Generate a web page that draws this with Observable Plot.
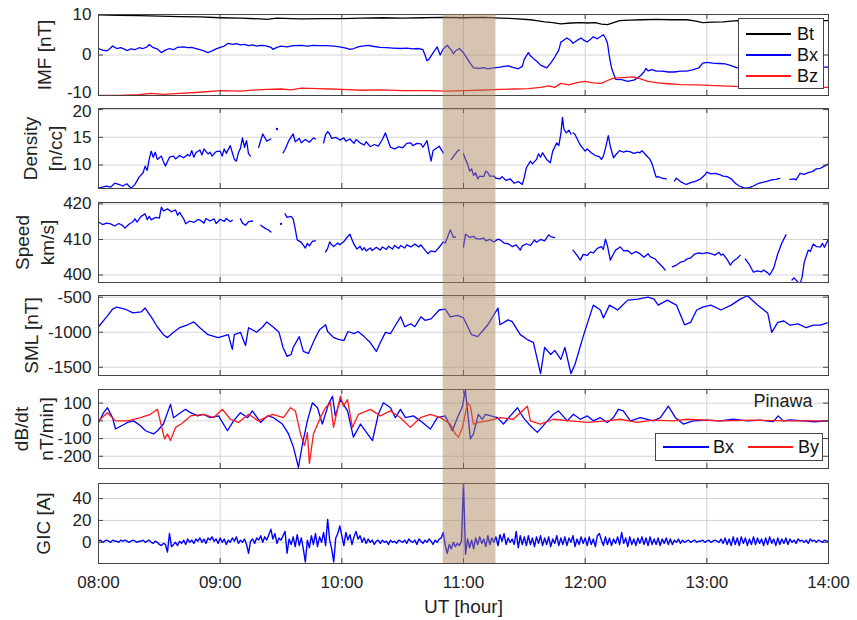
<!DOCTYPE html>
<html><head><meta charset="utf-8">
<script src="https://cdn.jsdelivr.net/npm/d3@7"></script>
<script src="https://cdn.jsdelivr.net/npm/@observablehq/plot@0.6"></script>
<style>
body{margin:0;background:#fff;font-family:"Liberation Sans",Arial,Helvetica,sans-serif;}
#wrap{position:relative;width:857px;height:620px;overflow:hidden;background:#fff;}
#wrap svg{position:absolute;left:0;}
.lg{position:absolute;background:#fff;border:1px solid #444;box-sizing:border-box;font-size:18px;color:#111;}
.lg .ln{position:absolute;height:1.6px;}
.lg span{position:absolute;height:20px;line-height:20px;}
</style></head>
<body><div id="wrap"></div>
<script>
// ---------- axis / tick labels ----------
const hourTicks = [8, 9, 10, 11, 12, 13, 14];
const xTickLabels = ["08:00", "09:00", "10:00", "11:00", "12:00", "13:00", "14:00"];
const shadeWindow = [170, 196]; // minutes after 08:00

// ---------- IMF (minutes after 08:00, nT) ----------
const btT = [0,10,20,30,40,50,60,70,80,83,88,95,100,110,120,130,140,150,160,170,180,190,198,205,213,216,220,224,228,233,238,241,245,248,251,254,257,262,268,275,282,290,294,298,303,308,315,326,340,360];
const btV = [9.9,9.8,9.7,9.6,9.5,9.4,9.2,9.1,8.9,8.8,9.1,9.0,8.9,9.0,9.0,9.1,9.2,9.1,9.2,9.3,9.2,9.3,9.1,9.0,8.7,8.5,8.2,8.0,7.7,7.9,8.0,7.9,8.0,7.6,7.5,8.0,8.5,8.6,8.7,8.8,8.7,8.7,8.4,8.0,8.1,8.2,8.5,8.4,8.5,8.5];
const imfBxT = [0,2,4,5,7,9,11,13,14,16,18,20,22,24,25,27,29,31,33,35,37,39,42,44,46,48,50,52,54,56,58,60,62,64,66,68,70,72,74,76,78,80,82,83,85,86,88,90,93,96,100,103,106,109,112,116,119,122,124,126,128,130,133,136,139,142,145,149,152,155,158,160,161,162,163,165,167,168.5,170,172,174,175,176,178,180,182,183.5,185,188,190,192,195,198,200,202,204,207,209,210,212,213,214.5,216,218,221,223,225,227,228,229,231,233,234,236,238,239.5,241,242.5,244,246,248,249,250,251,252,253,255,258,261,264,266,267.5,269,270,271,273,275,278,281,284,287,290,293,296,298,300,303,306,309,312,315,318,322,326,330,334,338,342,346,350,355,360];
const imfBxV = [1.6,1.2,1.0,1.3,2.2,1.6,1.8,1.4,1.1,1.5,1.3,1.8,1.6,2.0,2.6,1.8,1.5,0.6,1.2,1.6,1.3,1.9,2.0,1.8,1.9,1.6,1.3,1.0,0.6,1.0,1.5,1.9,2.2,2.9,2.6,2.8,2.5,2.6,2.3,2.5,2.2,2.4,2.3,2.2,1.9,1.4,1.9,2.2,2.0,2.3,2.4,2.2,2.4,2.3,2.3,2.2,2.0,1.7,1.4,1.6,2.0,2.2,2.4,2.1,1.9,1.8,1.7,1.6,1.7,1.5,1.6,1.3,0.0,-1.4,-1.0,0.5,2.0,0.0,1.5,2.4,1.2,0.3,1.0,1.6,0.5,-1.0,-2.2,-3.2,-3.3,-3.1,-3.4,-3.2,-3.0,-2.8,-2.7,-3.0,-3.4,-2.8,-1.0,0.6,-0.2,-0.9,-1.5,-2.5,-3.2,-2.0,-0.5,1.2,3.2,3.5,4.2,3.5,2.9,3.6,4.2,3.6,3.2,3.8,4.5,4.0,4.7,5.0,4.2,2.9,-0.5,-3.2,-6.0,-6.1,-6.5,-6.2,-5.6,-5.0,-4.2,-3.3,-3.9,-3.6,-4.0,-4.0,-4.2,-4.2,-4.0,-4.0,-3.7,-3.2,-2.0,-1.8,-2.0,-2.1,-2.2,-2.6,-3.2,-3.0,-2.6,-2.5,-2.6,-2.4,-2.8,-3.0,-3.1,-3.0,-3.0,-3.0];
const bzT = [0,10,20,26,32,40,50,60,70,78,83,90,95,100,108,114,120,130,140,150,164,172,180,188,198,205,212,218,222,225,228,232,236,240,244,248,251,254,258,264,268,271,276,281,287,295,307,317,330,346,360];
const bzV = [-10,-10,-9.8,-9.5,-9.7,-9.5,-9.2,-8.8,-8.9,-8.6,-8.5,-8.4,-8.6,-8.2,-8.3,-8.4,-8.5,-8.7,-8.6,-8.8,-8.8,-8.9,-8.8,-8.7,-8.5,-8.4,-8.3,-8.0,-7.6,-8.0,-7.0,-7.4,-6.8,-6.5,-6.9,-7.0,-6.3,-5.7,-5.6,-5.4,-6.0,-6.5,-6.9,-7.1,-7.3,-7.4,-7.6,-7.8,-7.9,-8.0,-8.0];

// ---------- Density (n/cc), null = data gap ----------
const densT = [
  0,2,4,6,8,10,12,14,16,18,20,22,23,24,25,26,27,28,29,31,32,33,35,37,38,40,42,44,45,46,47,48,50,51,52,54,55,56,58,60,61,62,63,65,66,67,68,69,70,71,72,73,74,75,75.5,
  79,81,83,85,85.5,
  91,92,94,96,97,99,100,102,104,106,107,107.5,
  111,112,113,114,115,117,119,121,122,124,126,127,129,131,132,134,136,138,140,141.5,143,144,146,148,150,152,154,155,157,159,160,162,163,164,165,167,168,170,170.5,
  174,175,177,178,178.5,
  180,181,182,183,184,185,186,187,188,190,191,192,193,195,196,198,199,201,203,205,207,209,210,211,213,214,216,217,218,219,221,222.8,224,226,227,228,228.8,229.5,230.7,232,233,233.5,
  234,235,237,238,240,241,243,245,247,248,249,250,251.4,252.5,254,255,257,259,260,262,264,266,267,268,270,272,273,274,275,276,278,280,280.5,
  284,285,287,289,290,292,294,297,299,300,302,304,306,308,310,312,314,316,318,319,321,323,325,326,328,330,332,334,336,336.5,
  341,343,344,346,348,350,352,354,356,358,360];
const densV = [
  5.8,6.0,6.2,6.0,6.7,6.5,6.2,6.6,5.8,6.5,7.8,8.6,9.8,9.0,11.0,12.5,11.4,12.3,11.0,11.6,10.6,9.8,11.4,11.6,11.1,11.7,11.3,11.9,11.6,12.6,11.4,12.2,12.7,11.8,12.9,12.0,12.3,11.6,12.4,12.5,11.6,12.9,12.1,13.5,12.2,11.0,10.7,12.2,13.0,14.9,13.2,14.4,12.0,11.6,null,
  13.2,15.6,14.3,14.7,null,
  12.2,12.8,14.5,15.6,14.2,14.8,14.0,14.6,14.1,14.9,14.7,null,
  14.0,15.5,16.0,15.6,14.8,15.0,14.5,14.9,14.3,14.7,13.9,14.6,14.0,13.6,14.2,13.3,13.7,13.4,14.6,15.8,14.2,13.2,12.9,13.3,13.1,13.9,14.0,13.5,13.9,13.8,13.2,14.4,12.5,10.7,12.6,13.1,13.4,12.2,null,
  11.0,11.5,12.5,12.7,null,
  12.0,11.0,10.2,8.9,9.3,8.1,8.6,7.5,8.0,7.9,8.9,8.6,8.0,8.0,7.6,7.5,7.9,7.2,7.5,6.7,7.0,6.5,7.8,9.5,10.7,10.2,11.0,12.0,11.4,12.2,11.0,10.4,12.5,14.0,13.5,15.6,18.6,16.5,15.8,16.3,15.6,null,
  15.8,15.5,14.0,13.4,12.5,12.9,12.2,11.7,11.5,11.0,11.6,13.0,15.3,13.2,11.3,11.8,12.6,12.3,12.5,12.4,12.1,12.3,12.2,12.6,11.8,11.0,10.2,9.0,7.8,7.9,7.6,7.5,null,
  7.1,7.6,7.0,6.6,6.5,6.8,7.0,7.5,8.2,8.7,8.4,8.5,8.3,8.0,7.9,7.5,6.7,6.2,5.9,5.8,5.9,6.2,6.6,6.7,6.9,7.1,7.3,7.4,7.6,null,
  7.4,7.5,7.3,8.5,8.3,8.6,8.8,9.3,9.4,9.8,10.2];
const densDotT = [88];
const densDotV = [16.5];

// ---------- Speed (km/s) ----------
const spdT = [
  0,2,4,6,8,10,12,13,15,17,18,19,21,23,24,25,26,28,30,31,32,34,36,38,39,40,42,43,45,47,49,50,52,53,55,57,58,60,62,63,65,66,66.5,
  70,71,72.5,74,76,76.5,
  80,82,84,85,85.5,
  92,93,95,96,97,98,100,101,102,103,104,105.5,107,107.5,
  112,113,114,115,116,118,119,121,122,124,125,126,127.5,129,130,131,132,134,135,137,139,140,142,143,145,146,148,149,151,152,154,156,158,159,161,162.5,164,166,168,170,171,172,173.5,175,176,176.5,
  180,180.5,181,183,185,186,188,190,191,193,195,197,198,200,202,204,206,208,209,211,213,215,216,218,220,222,223,225,225.5,
  234,236,237.6,239,241,242.6,244,246,248,249,250,251,252.4,254,255,257.3,259,261,263,265,267,269,271,272,274.6,276,278,279.5,280,
  283,285,287,289,290,292,294,296,298,300,302,304,306,307,308,310,311.6,313,315,316.5,317,
  319,320,321,323,325,327,328,330,331,333,335,337,339,340,
  342,343,345,346,347,348,350,351,352.5,354,356,357,358,360];
const spdV = [
  414.9,414.2,414.6,414.4,413.8,414.5,413.9,413.2,414.3,415.0,415.8,414.9,416.5,417.2,415.6,416.5,415.5,416.2,416.0,419.1,418.0,418.6,417.8,418.3,416.8,417.6,415.8,414.4,415.2,414.8,415.6,415.5,414.6,415.9,415.2,415.8,414.5,415.7,415.1,415.9,415.0,415.4,null,
  415.8,414.6,414.0,415.0,415.2,null,
  414.0,413.2,412.6,412.1,null,
  417.2,416.2,416.5,415.8,413.0,409.9,409.2,408.4,407.6,408.9,408.2,409.5,409.6,null,
  406.5,407.5,409.3,408.5,408.0,409.0,408.5,409.4,410.2,411.5,410.0,408.6,407.3,408.1,407.0,407.7,406.8,407.6,406.9,407.8,407.0,407.9,407.2,408.1,407.3,408.3,407.5,408.3,407.6,408.5,407.9,408.7,407.9,408.5,407.0,406.0,406.8,406.5,407.8,409.3,409.0,410.5,412.7,410.6,410.7,null,
  407.9,409.8,411.5,410.6,410.9,410.3,410.1,410.4,409.6,410.0,409.3,410.1,409.9,409.0,408.8,408.0,408.5,407.0,408.2,408.8,408.3,409.9,409.2,410.0,409.6,411.3,410.8,410.5,null,
  407.0,405.5,404.2,405.8,405.5,406.5,406.2,407.5,408.0,407.2,410.1,408.2,404.2,406.0,407.0,407.9,406.8,406.9,405.9,406.6,406.0,405.0,406.0,405.2,404.5,403.5,402.4,401.4,null,
  402.3,402.8,403.6,403.9,404.5,404.8,405.9,406.2,406.0,406.3,406.0,405.6,406.4,405.6,405.9,404.4,402.8,403.9,404.7,405.6,null,
  404.5,403.7,402.9,400.8,401.2,400.9,401.4,400.6,400.0,402.0,406.0,409.0,411.3,null,
  398.6,399.2,398.0,397.5,399.5,403.5,407.0,406.6,408.7,408.0,407.9,408.9,407.8,410.1];
const spdDotT = [90];
const spdDotV = [414.4];

// ---------- SML (nT) ----------
const smlT = [0,4,7,9,13,17,21,23,26,29,32,34,37,40,44,47,50,54,59,64,66,67,70,72.5,74,78,81,83,86,89,91,93,95,96,99,101,103.5,107,109,112,113,116,118,121,123,126,128,131,134,137,139,141.5,144,146,149,151,154,156,159,161,164,168,171,173.5,177,180,184,187,192,197,198,202,204,208,211.5,214.5,218,220,223,225,228,230,233,235,239,244,247.5,249,252,256,261,266,271,274,276,280.5,285,289,292,295,298,302,307,312,316.5,320,325,330,332,335,338,341,345,349,352.5,356,359.4];
const smlV = [-922,-780,-669,-641,-669,-725,-711,-655,-780,-922,-1035,-1077,-1002,-936,-894,-853,-936,-1035,-1077,-1035,-1246,-1035,-1002,-1190,-936,-1000,-922,-853,-922,-1000,-1218,-1345,-1317,-1218,-1063,-1274,-1303,-1077,-964,-894,-990,-1077,-1100,-1120,-990,-1020,-990,-1063,-1148,-1274,-1148,-1002,-1020,-922,-780,-922,-880,-922,-780,-830,-810,-683,-669,-780,-760,-796,-1035,-1063,-894,-655,-894,-824,-850,-1035,-1105,-1148,-1590,-1218,-1317,-1260,-1388,-1218,-1590,-1457,-1063,-613,-683,-796,-613,-683,-542,-528,-500,-528,-613,-542,-613,-894,-860,-683,-641,-613,-683,-613,-528,-480,-613,-725,-1002,-860,-840,-900,-880,-936,-900,-900,-866];

// ---------- dB/dt at Pinawa (nT/min) ----------
const dbxT = [0,2.5,4.4,6.9,8.4,14.3,17.3,20.7,23.2,27.1,29.1,32,35.5,37,39.4,42.9,45.4,48.8,51.8,55.2,59.2,63.6,66.6,70,73.5,75.9,79.9,83.3,86.3,90.7,93.7,96.1,98.6,100.6,103,105.5,108,110.4,113.4,115.4,116.8,119.3,122.8,125.7,129.2,135.1,138,140.5,144,146.4,148.9,151.4,155.3,158.7,163.7,167.1,171,174.5,177,179.5,180.9,182.5,183.4,184.9,187.3,189.3,190.8,196.7,199.7,203.1,206.6,209.5,213,216.4,221.4,224.3,226.8,231.2,234.2,237.6,241.1,244,247.5,250.9,253.9,256.4,258.8,262.3,267.2,273.6,277.1,281,284.5,288.4,293.3,300.2,306.6,313,320,326.4,332.8,335.2,337.7,341,347.6,353,359.4];
const dbxV = [-9,46,74,18,-46,-9,0,-28,-56,-74,-56,-18,93,18,37,65,46,28,37,18,28,-56,0,46,18,56,-9,28,18,-18,-74,-148,-262,-130,0,102,74,-18,93,139,28,120,56,-92,-18,-111,37,102,74,18,65,18,28,0,-46,18,28,-56,18,83,175,0,-102,-74,37,9,37,18,-18,28,74,18,-28,-65,0,37,56,0,37,9,28,0,18,-9,18,65,56,0,18,0,18,83,18,-18,0,4,0,9,0,4,-4,28,0,6,0,-5,0];
const dbyT = [0,4.4,8.4,14.3,20.7,25.6,29.1,31.6,32.6,34,35.5,38,40.8,45.4,51.8,56.7,61.1,65.1,69,74,78.9,85.8,91.2,94.7,97.1,99.6,101.6,103,104,106,109.4,111.9,114.4,115.9,119.3,120.8,122.8,125.2,128.2,134.1,139,144,148.9,153.8,158.7,163.7,168.6,173.5,176,177.5,179.5,182,183.4,184.9,187.3,191.8,198.2,204.6,208,211.5,213,217.9,224.3,232.7,241.1,250.9,257.3,265.7,273.6,283.5,290.4,306.6,322.9,340.2,359.4];
const dbyV = [0,46,0,0,18,37,65,-56,-102,-74,-111,-37,-18,28,37,18,65,9,-9,37,0,37,18,74,56,-74,-139,-65,-241,-74,18,74,102,-37,139,83,120,-37,37,65,28,56,18,-37,18,37,18,-18,-74,-92,-37,102,83,-18,-9,0,18,9,46,83,0,-18,9,0,-9,0,9,-9,4,0,9,0,4,0,0];

// ---------- GIC (A), one value per minute from 08:00 ----------
const gicV = [
  1,2,0,1,2,1,0,2,1,1,0,2,1,2,1,0,1,2,1,0,1,1,2,0,1,2,0,-1,1,0,
  -2,-3,-1,-2,-9,8,-4,-2,0,-3,1,-1,2,-2,3,0,2,-1,3,1,4,0,3,-1,4,2,5,1,3,-1,
  4,0,3,-2,2,0,4,1,5,-1,2,0,3,-2,-10,1,3,-1,4,2,6,0,5,2,7,12,3,8,-1,4,
  2,6,10,-10,3,-2,5,-4,7,-3,4,-6,-18,2,-5,6,-2,8,-4,5,0,9,-3,21,2,-6,-18,4,8,15,
  6,-3,9,2,7,-2,5,10,3,6,0,4,-1,3,0,2,-2,1,2,-1,2,0,1,-2,2,0,1,-1,2,1,
  0,2,-1,3,1,0,2,-2,3,1,-1,2,0,3,1,-2,2,0,3,4,9,-3,-10,-2,-6,0,-4,-1,-3,1,
  54,-11,3,-5,2,-6,4,-2,5,-1,3,-4,6,-2,4,0,5,-3,7,1,8,-2,4,0,3,-2,10,-5,6,-2,
  5,-3,6,-2,4,-4,5,-1,6,-3,4,-2,5,-4,3,-1,6,-3,4,-2,5,-3,4,0,6,-4,3,-2,5,-1,
  4,-3,5,-2,3,-4,6,8,2,-3,5,-2,4,-3,3,-1,5,-2,9,-1,4,-4,5,-2,3,-3,4,-1,5,-2,
  4,-3,5,-2,3,-2,4,-3,3,-1,4,-2,3,-2,2,0,3,-1,2,0,1,2,0,1,2,0,1,1,2,0,
  1,2,0,1,2,1,0,3,-1,4,-2,3,-3,5,-2,4,-3,5,-1,4,-3,3,-2,5,-2,4,-1,3,-3,4,
  -2,5,-1,3,-3,4,-2,3,-1,4,-2,3,0,2,-1,3,1,2,0,2,-1,3,1,2,0,2,1,0,2,1,1
];

// ---------- rendering ----------
const W = 857, ML = 98, MR = 29, FW = W - ML - MR;
const FONT = '"Liberation Sans", Arial, Helvetica, sans-serif';
const BLUE = "#0000ff", RED = "#ff1a1a", BLACK = "#000000";
const rows = (T, V) => T.map((t, i) => ({x: 8 + t / 60, y: V[i]}));
const line = (T, V, color) => Plot.line(rows(T, V), {x: "x", y: "y", stroke: color, strokeWidth: 1.3, clip: true});
const wrap = document.getElementById("wrap");
const fmt = d => String(d);

function panel(o) {
  const mt = 10, mb = o.last ? 57 : 4;
  const shifted = o.tickDy || {};
  const plain = o.ticks.filter(t => !(t in shifted));
  const marks = [
    Plot.gridX(hourTicks, {stroke: "#d4d4d4", strokeOpacity: 1}),
    Plot.gridY(o.ticks, {stroke: "#d4d4d4", strokeOpacity: 1}),
    ...o.marks,
    Plot.ruleX(hourTicks, {stroke: "#444", insetTop: o.h - 5}),
    Plot.ruleX(hourTicks, {stroke: "#444", insetBottom: o.h - 5}),
    Plot.ruleY(o.ticks, {stroke: "#444", insetRight: FW - 5}),
    Plot.ruleY(o.ticks, {stroke: "#444", insetLeft: FW - 5}),
    Plot.frame({stroke: "#444"}),
    Plot.axisY(plain, {anchor: "left", tickSize: 0, tickPadding: 7, label: null, fontSize: 17, tickFormat: fmt}),
    ...Object.keys(shifted).map(k => Plot.axisY([+k], {anchor: "left", tickSize: 0, tickPadding: 7, label: null, fontSize: 17, tickFormat: fmt, dy: shifted[k]})),
    Plot.text([o.label], {text: d => d, frameAnchor: "left", dx: o.labelDx, rotate: -90, fontSize: 19, lineHeight: 1.3, textAnchor: "middle", lineAnchor: "middle"})
  ];
  if (o.last) {
    marks.push(Plot.axisX(hourTicks, {anchor: "bottom", tickSize: 0, tickPadding: 12, label: null, fontSize: 17,
      tickFormat: d => xTickLabels[hourTicks.indexOf(d)]}));
    marks.push(Plot.text(["UT [hour]"], {text: d => d, frameAnchor: "bottom", dy: 43, fontSize: 19, lineAnchor: "middle"}));
  }
  const p = Plot.plot({
    width: W, height: o.h + mt + mb,
    marginLeft: ML, marginRight: MR, marginTop: mt, marginBottom: mb,
    style: {background: "transparent", overflow: "visible", fontFamily: FONT, color: "#222"},
    x: {domain: [8, 14], axis: null},
    y: {domain: o.domain, axis: null},
    marks
  });
  p.style.top = (o.top - mt) + "px";
  p.style.overflow = "visible";
  wrap.appendChild(p);
}

panel({top: 14, h: 81, domain: [-10, 10], ticks: [-10, 0, 10], tickDy: {"-10": -3}, label: "IMF [nT]", labelDx: -55,
  marks: [line(btT, btV, BLACK), line(imfBxT, imfBxV, BLUE), line(bzT, bzV, RED)]});
panel({top: 108, h: 80, domain: [5.75, 20.2], ticks: [10, 15, 20], tickDy: {"20": 2}, label: "Density\n[n/cc]", labelDx: -57,
  marks: [line(densT, densV, BLUE), Plot.dot(rows(densDotT, densDotV), {x: "x", y: "y", r: 1.2, fill: BLUE})]});
panel({top: 201.5, h: 80, domain: [397.9, 420.4], ticks: [400, 410, 420], label: "Speed\nkm/s]", labelDx: -65,
  marks: [line(spdT, spdV, BLUE), Plot.dot(rows(spdDotT, spdDotV), {x: "x", y: "y", r: 1.2, fill: BLUE})]});
panel({top: 295, h: 80, domain: [-1618, -476], ticks: [-1500, -1000, -500], label: "SML [nT]", labelDx: -68,
  marks: [line(smlT, smlV, BLUE)]});
panel({top: 389, h: 79, domain: [-269, 177], ticks: [-200, -100, 0, 100], label: "dB/dt\nnT/min]", labelDx: -66,
  marks: [line(dbxT, dbxV, BLUE), line(dbyT, dbyV, RED),
    Plot.text(["Pinawa"], {text: d => d, frameAnchor: "top-right", dx: -16, dy: 12, fontSize: 18, textAnchor: "end", lineAnchor: "middle"})]});
panel({top: 483, h: 80, domain: [-19.4, 53.8], ticks: [0, 20, 40], label: "GIC [A]", labelDx: -56, last: true,
  marks: [Plot.line(gicV.map((v, i) => ({x: 8 + i / 60, y: v})), {x: "x", y: "y", stroke: BLUE, strokeWidth: 1.4, clip: true})]});

// highlighted interval, drawn over all panels
const band = Plot.plot({
  width: W, height: 620, marginLeft: ML, marginRight: MR, marginTop: 14, marginBottom: 57,
  style: {background: "transparent"},
  x: {domain: [8, 14], axis: null},
  marks: [Plot.rect([shadeWindow], {x1: d => 8 + d[0] / 60, x2: d => 8 + d[1] / 60, fill: "#a9825a", fillOpacity: 0.48})]
});
band.style.top = "0px";
band.style.pointerEvents = "none";
wrap.appendChild(band);

// legends
function legend(left, top, w, h, items) {
  const d = document.createElement("div");
  d.className = "lg";
  Object.assign(d.style, {left: left + "px", top: top + "px", width: w + "px", height: h + "px"});
  for (const it of items) {
    const l = document.createElement("div");
    l.className = "ln";
    Object.assign(l.style, {left: it.lx + "px", top: (it.cy - 1) + "px", width: it.lw + "px", backgroundColor: it.color});
    const s = document.createElement("span");
    s.textContent = it.name;
    Object.assign(s.style, {left: it.tx + "px", top: (it.cy - 10) + "px"});
    d.appendChild(l); d.appendChild(s);
  }
  wrap.appendChild(d);
}
legend(738, 18, 86, 71, [
  {name: "Bt", color: BLACK, lx: 7, lw: 45, tx: 58, cy: 15},
  {name: "Bx", color: BLUE, lx: 7, lw: 45, tx: 58, cy: 36},
  {name: "Bz", color: RED, lx: 7, lw: 45, tx: 58, cy: 57}
]);
legend(655, 433, 168, 28, [
  {name: "Bx", color: BLUE, lx: 7, lw: 46, tx: 57, cy: 13},
  {name: "By", color: RED, lx: 92, lw: 45, tx: 142, cy: 13}
]);
</script>
</body></html>
